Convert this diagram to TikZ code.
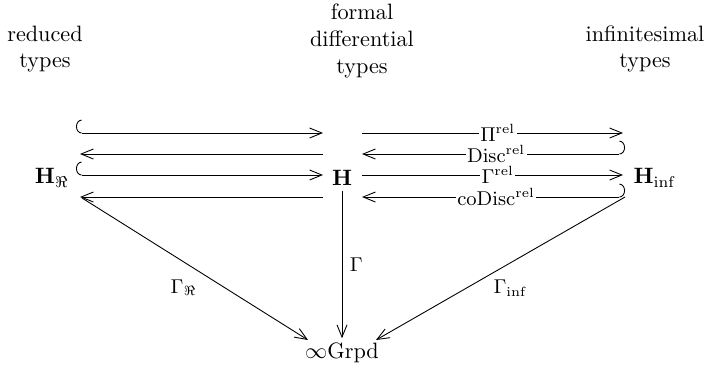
\documentclass[tikz,border=0pt]{standalone}
\usetikzlibrary{arrows.meta,calc}
\begin{document}
\begin{tikzpicture}[x=0.45pt,y=-0.45pt,
  tip/.style={-{Straight Barb[length=5.5pt,width=4.5pt]}},
  hookl/.style={{Hooks[right,width=12pt,length=2.5pt]}-{Straight Barb[length=5.5pt,width=4.5pt]}},
  hookr/.style={{Hooks[left,width=12pt,length=2.5pt]}-{Straight Barb[length=5.5pt,width=4.5pt]}},
  lab/.style={fill=white,inner sep=0.6pt,font=\small},
  side/.style={font=\small},
  obj/.style={inner sep=2pt},
  head/.style={align=center}]
\useasboundingbox (0,0) rectangle (722,376);
\node[head] (tr) at (45,49) {reduced\\types};
\node[head] (tf) at (362,41) {formal\\differential\\types};
\node[head] (ti) at (645,49) {infinitesimal\\types};
\node[obj] (HR) at (52,178) {$\mathbf{H}_{\Re}$};
\node[obj] (H) at (342,178) {$\mathbf{H}$};
\node[obj] (Hi) at (655,178) {$\mathbf{H}_{\mathrm{inf}}$};
\node[obj] (G) at (342,353) {$\infty\mathrm{Grpd}$};
\coordinate (a1) at (76,133); \coordinate (b1) at (323,133);
\coordinate (a2) at (80,154); \coordinate (b2) at (323,154);
\coordinate (a3) at (76,175); \coordinate (b3) at (323,175);
\coordinate (a4) at (80,197); \coordinate (b4) at (323,197);
\coordinate (c1) at (362,133); \coordinate (d1) at (623,133);
\coordinate (c2) at (362,154); \coordinate (d2) at (625,154);
\coordinate (c3) at (362,175); \coordinate (d3) at (623,175);
\coordinate (c4) at (362,197); \coordinate (d4) at (625,197);
\coordinate (e1) at (82,198);
\coordinate (gl) at (308,340);
\coordinate (gr) at (376,340);
\draw[hookl] (a1) -- (b1);
\draw[tip] (b2) -- (a2);
\draw[hookl] (a3) -- (b3);
\draw[tip] (b4) -- (a4);
\draw[tip] (c1) -- node[lab,pos=0.52]{$\Pi^{\mathrm{rel}}$} (d1);
\draw[hookr] (d2) -- node[lab,pos=0.49]{$\mathrm{Disc}^{\mathrm{rel}}$} (c2);
\draw[tip] (c3) -- node[lab,pos=0.52]{$\Gamma^{\mathrm{rel}}$} (d3);
\draw[hookr] (d4) -- node[lab,pos=0.49]{$\mathrm{coDisc}^{\mathrm{rel}}$} (c4);
\draw[tip] (e1) -- node[side,pos=0.45,yshift=-11.5pt]{$\Gamma_{\Re}$} (gl);
\draw[tip] (d4) -- node[side,pos=0.46,yshift=-11.5pt]{$\Gamma_{\mathrm{inf}}$} (gr);
\draw[tip] (H) -- node[side,right]{$\Gamma$} (G);
\end{tikzpicture}
\end{document}
